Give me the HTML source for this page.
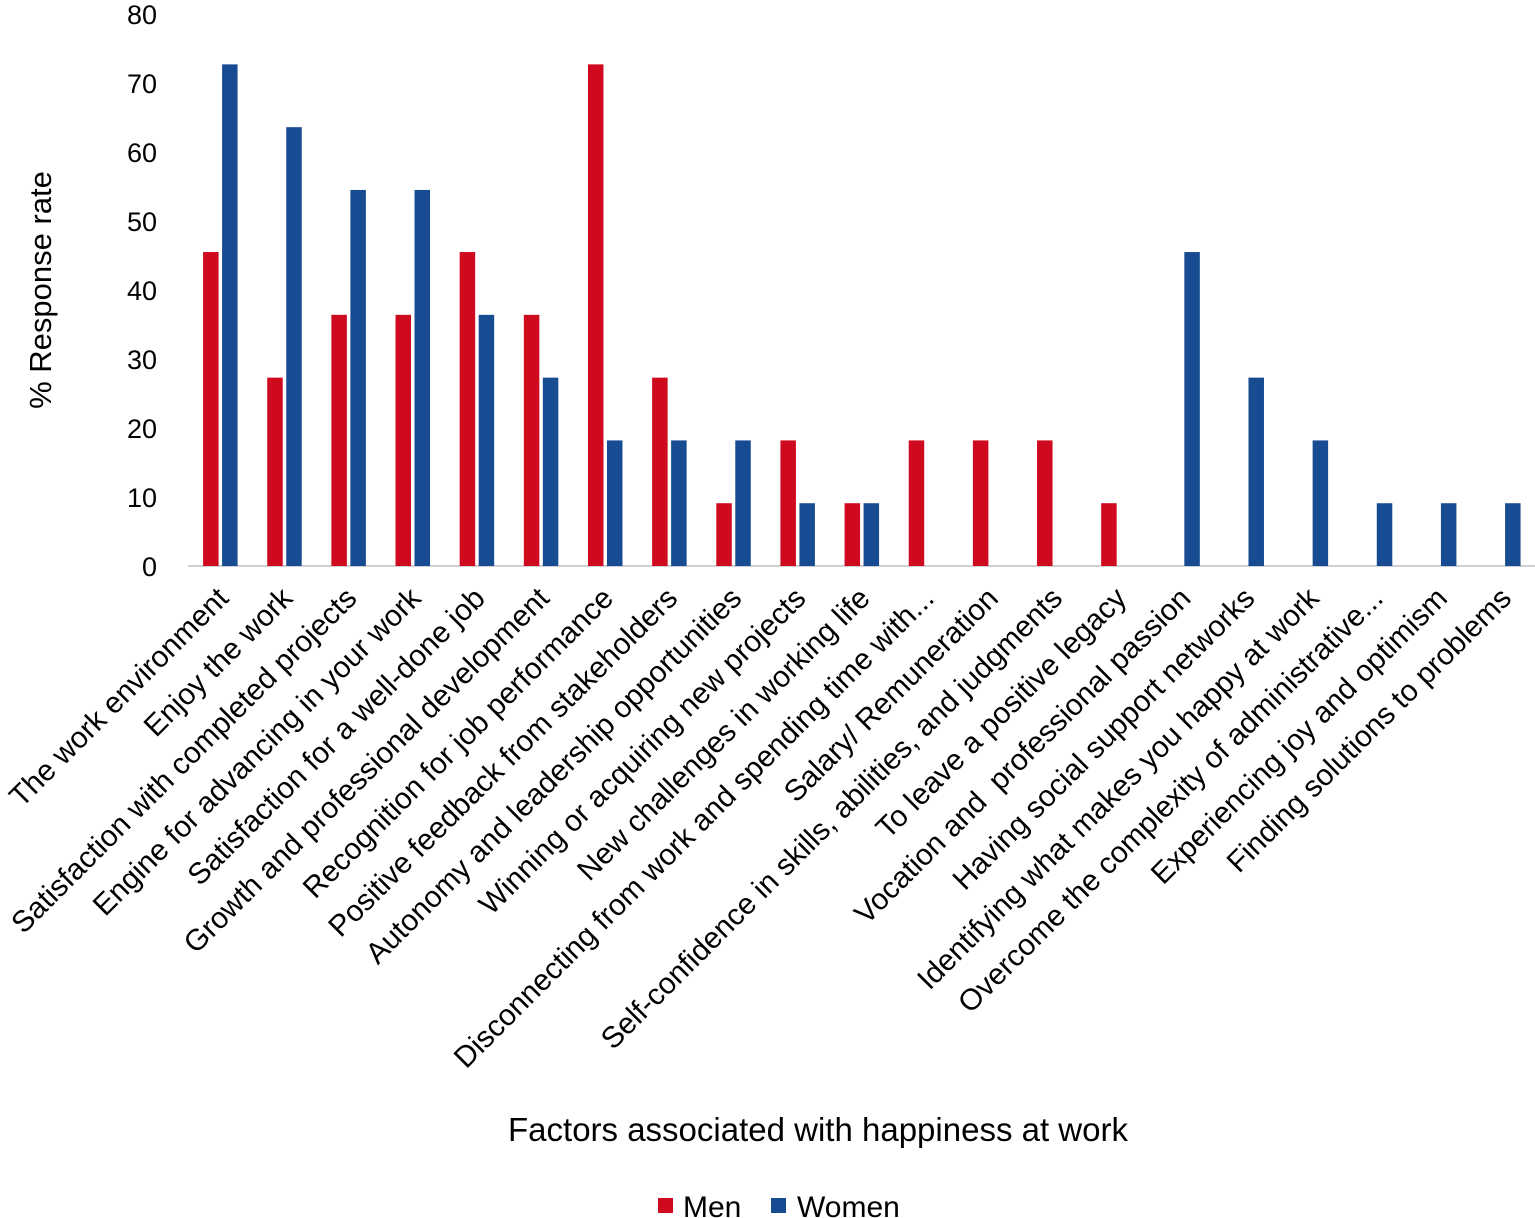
<!DOCTYPE html>
<html><head><meta charset="utf-8"><style>
html,body{margin:0;padding:0;background:#fff;}
svg{display:block;font-family:"Liberation Sans",sans-serif;}
</style></head><body>
<svg id="chart" width="1535" height="1218">
<g id="grid"></g><g id="bars"></g><g id="xlabels"></g>
<text x="51" y="290" font-size="31" text-anchor="middle" transform="rotate(-90 51 290)" fill="#000">% Response rate</text>
<text x="818" y="1141" font-size="33" text-anchor="middle" fill="#000">Factors associated with happiness at work</text>
<g>
<rect x="658" y="1198" width="15" height="15" fill="#d00a1e"/>
<text x="683" y="1217" font-size="30">Men</text>
<rect x="771" y="1198" width="15" height="15" fill="#174c92"/>
<text x="797" y="1217" font-size="30">Women</text>
</g>
</svg>
<script>
const categories=["The work environment","Enjoy the work","Satisfaction with completed projects","Engine for advancing in your work","Satisfaction for a well-done job","Growth and professional development","Recognition for job performance","Positive feedback from stakeholders","Autonomy and leadership opportunities","Winning or acquiring new projects","New challenges in working life","Disconnecting from work and spending time with...","Salary/ Remuneration","Self-confidence in skills, abilities, and judgments","To leave a positive legacy","Vocation and\u00a0 professional passion","Having social support networks","Identifying what makes you happy at work","Overcome the complexity of administrative...","Experiencing joy and optimism","Finding solutions to problems"];
const menValues=[45.5,27.3,36.4,36.4,45.5,36.4,72.7,27.3,9.1,18.2,9.1,18.2,18.2,18.2,9.1,0,0,0,0,0,0];
const womenValues=[72.7,63.6,54.5,54.5,36.4,27.3,18.2,18.2,18.2,9.1,9.1,0,0,0,0,45.5,27.3,18.2,9.1,9.1,9.1];
const yTicks=[0,10,20,30,40,50,60,70,80];
const NS="http://www.w3.org/2000/svg";
const x0=188,step=64.15,y0=566,yScale=6.9,bw=15.5;
const yPos=v=>y0-v*yScale;
const xCenter=i=>x0+step*(i+0.5);
function mk(t,a,p){const e=document.createElementNS(NS,t);for(const k in a)e.setAttribute(k,a[k]);p.appendChild(e);return e;}
const grid=document.getElementById('grid');
yTicks.forEach(v=>{
  const t=mk('text',{x:157,y:yPos(v)+10,'font-size':27,'text-anchor':'end',fill:'#000'},grid);
  t.textContent=v;
  
  
});
const ax=mk('line',{x1:x0,x2:1535,y1:y0,y2:y0,stroke:'#d0d0d0','stroke-width':2},grid);


const bars=document.getElementById('bars'),xl=document.getElementById('xlabels');
categories.forEach((c,i)=>{
  const cx=xCenter(i);
  const m=mk('rect',{x:cx-17,y:yPos(menValues[i]),width:bw,height:menValues[i]*yScale,fill:'#d00a1e'},bars);
  
  
  const w=mk('rect',{x:cx+2,y:yPos(womenValues[i]),width:bw,height:womenValues[i]*yScale,fill:'#174c92'},bars);
  
  
  const lx=cx+10,ly=600;
  const t=mk('text',{x:lx,y:ly,'font-size':29.8,'text-anchor':'end',fill:'#000',transform:`rotate(-45 ${lx} ${ly})`},xl);
  t.textContent=c;
  
  
});
</script>
</body></html>
